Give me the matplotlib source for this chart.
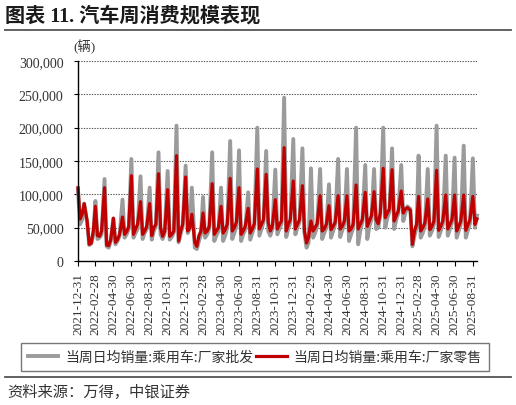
import numpy as np
import pandas as pd
import matplotlib
matplotlib.use("Agg")
from matplotlib import pyplot as plt
from matplotlib.lines import Line2D
from matplotlib.ticker import FuncFormatter, MultipleLocator

plt.rcParams['font.family'] = ['Liberation Serif', 'Noto Sans CJK SC']

# weekly values (thousand cars / day), 4 weeks per month: days 7, 14, 21, month end
start_red, start_gray = 110, 108   # 2021-12-31

red_2022 = [63, 70, 86, 60,  25, 27, 45, 82,  38, 37, 45, 110,  24, 23, 32, 64,
            28, 32, 40, 66,  40, 44, 52, 128,  40, 48, 55, 89,  40, 45, 52, 86,
            38, 50, 55, 131,  50, 37, 45, 107,  37, 40, 45, 158,  30, 45, 55, 126]
gray_2022 = [55, 62, 86, 58,  24, 26, 40, 90,  33, 35, 40, 123,  22, 20, 30, 64,
             25, 30, 38, 92,  35, 40, 48, 153,  35, 42, 48, 127,  33, 42, 48, 110,
             32, 45, 52, 163,  40, 33, 42, 135,  32, 36, 43, 203,  28, 40, 52, 143]

red_2023 = [45, 50, 70, 28,  22, 38, 45, 72,  42, 45, 52, 116,  40, 45, 50, 82,
            42, 47, 55, 124,  45, 50, 58, 110,  40, 45, 52, 79,  42, 48, 56, 138,
            48, 55, 62, 130,  58, 45, 52, 92,  48, 55, 60, 170,  45, 55, 62, 120]
gray_2023 = [42, 48, 110, 20,  18, 30, 40, 96,  35, 40, 48, 163,  30, 38, 45, 110,
             30, 38, 50, 180,  33, 42, 52, 166,  30, 40, 47, 103,  32, 42, 52, 200,
             38, 48, 58, 165,  45, 38, 48, 137,  40, 48, 56, 245,  36, 48, 58, 183]

red_2024 = [48, 55, 62, 113,  45, 27, 36, 60,  45, 50, 56, 98,  45, 48, 55, 83,
            47, 52, 58, 98,  48, 52, 60, 98,  45, 48, 55, 114,  48, 55, 62, 103,
            52, 60, 68, 104,  62, 56, 72, 139,  65, 72, 78, 137,  60, 68, 75, 105]
gray_2024 = [40, 50, 58, 169,  42, 20, 28, 139,  35, 42, 52, 138,  33, 42, 50, 115,
             35, 45, 55, 153,  36, 46, 55, 138,  30, 40, 50, 200,  25, 45, 58, 144,
             33, 52, 62, 138,  48, 50, 68, 200,  50, 65, 74, 169,  48, 62, 72, 144]

red_2025 = [72, 78, 80, 76,  25, 45, 55, 97,  45, 50, 57, 93,  47, 52, 60, 136,
            46, 52, 60, 99,  48, 55, 62, 99,  45, 52, 60, 99,  46, 54, 62, 97,
            55, 63]
gray_2025 = [60, 72, 82, 78,  22, 38, 50, 158,  35, 42, 52, 138,  38, 45, 55, 203,
             36, 45, 55, 158,  38, 48, 58, 155,  35, 45, 55, 173,  35, 46, 56, 154,
             50, 68]

labels = ['当周日均销量:乘用车:厂家批发', '当周日均销量:乘用车:厂家零售']

# dates
dates = [pd.Timestamp('2021-12-31')]
for m in pd.period_range('2022-01', '2025-08', freq='M'):
    for d in (7, 14, 21, m.days_in_month):
        dates.append(pd.Timestamp(year=m.year, month=m.month, day=d))
dates += [pd.Timestamp('2025-09-07'), pd.Timestamp('2025-09-14')]

red = np.array([start_red] + red_2022 + red_2023 + red_2024 + red_2025) * 1000
gray = np.array([start_gray] + gray_2022 + gray_2023 + gray_2024 + gray_2025) * 1000

try:
    ticks = pd.date_range('2021-12-31', '2025-08-31', freq='2ME')
except ValueError:
    ticks = pd.date_range('2021-12-31', '2025-08-31', freq='2M')

W, H = 516, 406
fig = plt.figure(figsize=(W / 100, H / 100), dpi=100)
ax = fig.add_axes([78 / W, 1 - 262 / H, (477 - 78) / W, 200 / H])

l1, = ax.plot(dates, gray, color='#9B9B9B', lw=2.8, solid_joinstyle='round', clip_on=False)
l2, = ax.plot(dates, red, color='#C00000', lw=2.3, solid_joinstyle='round', clip_on=False)

ax.set_ylim(0, 300000)
ax.set_xlim(pd.Timestamp('2021-12-31'), pd.Timestamp('2025-09-14'))
ax.yaxis.set_major_locator(MultipleLocator(50000))
ax.yaxis.set_major_formatter(FuncFormatter(lambda v, p: f'{v:,.0f}'))
ax.set_xticks(ticks)
ax.set_xticklabels([t.strftime('%Y-%m-%d') for t in ticks], rotation=90)
ax.tick_params(axis='x', direction='out', length=3.5, width=0.8, labelsize=9.5,
               labelcolor='#333333', pad=4.5)
ax.tick_params(axis='y', direction='out', length=3, width=0.8, labelsize=10,
               labelcolor='#333333', pad=7.5)
ax.yaxis.grid(True, linestyle=(0, (1.2, 1.2)), color='#555555', lw=0.8)
ax.set_axisbelow(True)
for s in ('top', 'right'):
    ax.spines[s].set_visible(False)
for s in ('left', 'bottom'):
    ax.spines[s].set_linewidth(1.0)
    ax.spines[s].set_color('black')
    ax.spines[s].set_zorder(3)

fig.text(84 / W, 1 - 47 / H, '(辆)', fontsize=9.5, ha='center', va='center', color='#333333')

fig.text(5 / W, 1 - 17 / H, '图表 11. 汽车周消费规模表现', fontsize=14.5, fontweight='bold',
         va='center', ha='left', color='#1a1a1a')
fig.add_artist(Line2D([5 / W, 511 / W], [1 - 31 / H] * 2, transform=fig.transFigure,
                      color='#555555', lw=1.3))

leg = fig.legend([l1, l2], labels, loc='center', bbox_to_anchor=(254.7 / W, 1 - 358 / H),
                 ncol=2, frameon=True, fancybox=False, handlelength=2.2,
                 handletextpad=0.5, columnspacing=0.2, borderpad=0.5,
                 prop={'family': ['Noto Sans CJK SC'], 'size': 10})
leg.get_frame().set_edgecolor('#555555')
leg.get_frame().set_linewidth(1.0)
for t in leg.get_texts():
    t.set_color('#333333')

fig.add_artist(Line2D([5 / W, 511 / W], [1 - 378 / H] * 2, transform=fig.transFigure,
                      color='#555555', lw=1.3))
fig.text(7 / W, 1 - 392 / H, '资料来源：万得，中银证券', fontsize=11, va='center', ha='left',
         color='#333333', family=['Noto Sans CJK SC'])

fig.savefig('out.png', dpi=100)
